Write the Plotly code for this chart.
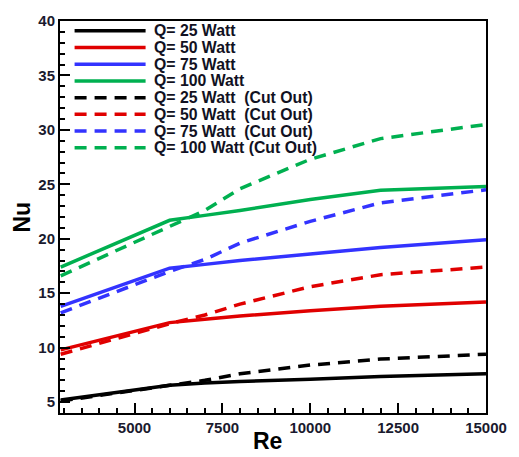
import plotly.graph_objects as go

re_vals = [2900, 6000, 7000, 8000, 10000, 12000, 15000]

nu_25 = [5.2, 6.55, 6.75, 6.9, 7.1, 7.35, 7.6]
nu_50 = [9.8, 12.3, 12.6, 12.9, 13.4, 13.8, 14.2]
nu_75 = [13.8, 17.3, 17.65, 18.0, 18.6, 19.2, 19.9]
nu_100 = [17.4, 21.7, 22.15, 22.6, 23.6, 24.45, 24.8]

nu_25_cut = [5.1, 6.5, 7.0, 7.6, 8.4, 8.95, 9.4]
nu_50_cut = [9.4, 12.2, 13.0, 14.0, 15.6, 16.7, 17.4]
nu_75_cut = [13.2, 17.0, 18.1, 19.6, 21.6, 23.3, 24.5]
nu_100_cut = [16.6, 21.2, 22.6, 24.6, 27.3, 29.2, 30.5]

names = ["Q= 25 Watt", "Q= 50 Watt", "Q= 75 Watt", "Q= 100 Watt",
         "Q= 25 Watt  (Cut Out)", "Q= 50 Watt  (Cut Out)",
         "Q= 75 Watt  (Cut Out)", "Q= 100 Watt (Cut Out)"]

colors = ["#000000", "#e00000", "#3333ff", "#00b050"]
series = [nu_25, nu_50, nu_75, nu_100, nu_25_cut, nu_50_cut, nu_75_cut, nu_100_cut]

DASH = "12px,8px"
LW = 3.5

fig = go.Figure()
for i, (name, ys) in enumerate(zip(names, series)):
    fig.add_trace(go.Scatter(
        x=re_vals, y=ys, mode="lines", name=name, showlegend=False,
        line=dict(color=colors[i % 4], width=LW, dash="solid" if i < 4 else DASH),
    ))

# manual legend (line samples + labels) in paper coordinates
L, T, W, H = 60, 14, 438, 399
def px_x(p):
    return (p - L) / W
def px_y(p):
    return (T + H - p) / H

rows = [24, 41, 58, 75, 92, 109, 126, 143]
shapes = []
annotations = []
for i, (name, ry) in enumerate(zip(names, rows)):
    shapes.append(dict(type="line", xref="paper", yref="paper",
                       x0=px_x(75), x1=px_x(148), y0=px_y(ry), y1=px_y(ry),
                       line=dict(color=colors[i % 4], width=LW,
                                 dash="solid" if i < 4 else DASH)))
    annotations.append(dict(text="<b>%s</b>" % name, xref="paper", yref="paper",
                            x=px_x(155), y=px_y(ry), xanchor="left", yanchor="middle",
                            showarrow=False,
                            font=dict(family="Liberation Sans, Arial", size=15.8, color="#111122")))

annotations.append(dict(text="<b>Nu</b>", xref="paper", yref="paper",
                        x=px_x(21), y=px_y(214), xanchor="center", yanchor="middle",
                        textangle=-90, showarrow=False,
                        font=dict(family="Liberation Sans, Arial", size=23, color="#000000")))
annotations.append(dict(text="<b>Re</b>", xref="paper", yref="paper",
                        x=px_x(273), y=px_y(442), xanchor="center", yanchor="middle",
                        showarrow=False,
                        font=dict(family="Liberation Sans, Arial", size=23, color="#000000")))

tickfont = dict(family="Liberation Sans, Arial", size=15, color="#1a1a2e")

fig.update_layout(
    width=519, height=457,
    margin=dict(l=L, r=519 - L - W, t=T, b=457 - T - H),
    plot_bgcolor="white", paper_bgcolor="white",
    shapes=shapes, annotations=annotations,
    showlegend=False,
)
fig.update_xaxes(
    range=[2880, 15000], tickvals=[5000, 7500, 10000, 12500, 15000],
    ticktext=["<b>5000</b>", "<b>7500</b>", "<b>10000</b>", "<b>12500</b>", "<b>15000</b>"],
    ticks="inside", ticklen=10, tickwidth=2, tickcolor="black",
    minor=dict(ticks="inside", ticklen=5, tickwidth=1.5, tickcolor="black", dtick=500, tick0=0, showgrid=False),
    showline=True, linewidth=2, linecolor="black", mirror=True,
    showgrid=False, zeroline=False, tickfont=tickfont,
)
fig.update_yaxes(
    range=[4, 40], tickvals=[5, 10, 15, 20, 25, 30, 35, 40],
    ticktext=["<b>%d</b>" % v for v in [5, 10, 15, 20, 25, 30, 35, 40]],
    ticks="inside", ticklen=10, tickwidth=2, tickcolor="black",
    minor=dict(ticks="inside", ticklen=5, tickwidth=1.5, tickcolor="black", dtick=1, tick0=0, showgrid=False),
    showline=True, linewidth=2, linecolor="black", mirror=True,
    showgrid=False, zeroline=False, tickfont=tickfont,
)

fig.write_html("out.html")
